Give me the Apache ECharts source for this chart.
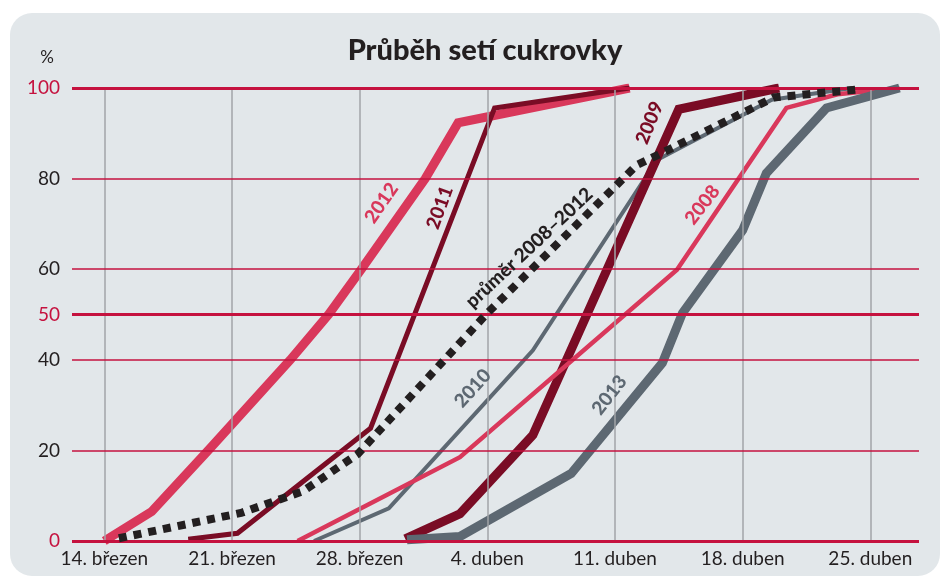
<!DOCTYPE html>
<html>
<head>
<meta charset="utf-8">
<script src="https://cdn.jsdelivr.net/npm/echarts@6/dist/echarts.min.js"></script>
<style>
html, body { margin: 0; padding: 0; background: #fff; }
#chart { width: 942px; height: 576px; }
</style>
</head>
<body>
<div id="chart"></div>
<script>
// x = days since 14. březen
var dayTicks = [0, 7, 14, 21, 28, 35, 42];
var dayLabels = ['14. březen', '21. březen', '28. březen', '4. duben', '11. duben', '18. duben', '25. duben'];
var yTicks = [0, 20, 40, 50, 60, 80, 100];
var yStrong = [0, 50, 100];

var s2008 = [[10.6, 0], [19.5, 18.5], [31.4, 59.9], [37.4, 95.6], [40.2, 98.6], [43.6, 100]];
var s2009 = [[16.5, 0.5], [19.5, 6], [23.5, 23.4], [31.5, 95.3], [37, 100]];
var s2010 = [[11.5, 0], [15.6, 7.2], [23.5, 42.1], [30.3, 84.1], [36.6, 97.4], [41, 100]];
var s2011 = [[4.6, 0.4], [7.3, 1.7], [14.6, 24.9], [21.4, 95.6], [28.8, 100]];
var s2012 = [[0, 0], [2.6, 6.5], [5.7, 20], [10.2, 40], [12.3, 50], [14.1, 60], [17.6, 80], [19.4, 92.3], [28.8, 100]];
var s2013 = [[16.6, 0.3], [19.5, 1], [25.6, 14.9], [30.6, 39.3], [31.7, 50.3], [35.0, 68.6], [36.3, 81.2], [39.6, 95.6], [43.6, 100]];
var sAvg = [[0.8, 0.6], [7.5, 6.2], [10.9, 11.0], [13.9, 19.2], [21.0, 50.3], [29.2, 83.0], [30.4, 85.3], [36.7, 97.9], [41.4, 99.7]];

// popisky u křivek: text, den, hodnota, úhel, barva
var notes = [
    ['2012', 15.2, 74.6, 55, '#d9385b'],
    ['2011', 18.4, 73.6, 70, '#7a0c25'],
    ['průměr 2008–2012', 23.3, 64.7, 43, '#231f20'],
    ['2009', 29.9, 92.3, 68, '#7a0c25'],
    ['2008', 32.8, 74.2, 52, '#d9385b'],
    ['2010', 20.2, 33.7, 48, '#5d6872'],
    ['2013', 27.7, 32.2, 52, '#5d6872']
];

var PINK = '#d9385b', MAROON = '#7a0c25', GRAY = '#5d6872', RED = '#c5123f';

var chart = echarts.init(document.getElementById('chart'));

function lineSeries(name, data, color, width, z) {
    return {
        name: name,
        type: 'line',
        data: data,
        symbol: 'none',
        z: z,
        lineStyle: { color: color, width: width, join: 'miter', cap: 'butt' }
    };
}

var gridLines = [];
dayTicks.forEach(function (d) {
    gridLines.push({ xAxis: d, lineStyle: { color: '#a2a5a8', width: 1.5, type: 'solid' } });
});
yTicks.forEach(function (v) {
    var strong = yStrong.indexOf(v) >= 0;
    gridLines.push({ yAxis: v, lineStyle: { color: RED, width: strong ? 3 : 1.5, type: 'solid' } });
});

chart.setOption({
    backgroundColor: '#fff',
    animation: false,
    graphic: [
        { type: 'rect', z: -10, shape: { x: 10, y: 13, width: 930, height: 563, r: 22 }, style: { fill: '#e2e7ea' } },
        { type: 'text', x: 485, y: 51, style: { text: 'Průběh setí cukrovky', align: 'center', verticalAlign: 'middle',
            font: '900 29px Lato', fill: '#231f20' } },
        { type: 'text', x: 47, y: 58, style: { text: '%', align: 'center', verticalAlign: 'middle',
            font: '17px Lato', fill: '#231f20' } }
    ],
    grid: { left: 72, right: 23, top: 88, bottom: 35 },
    xAxis: {
        type: 'value',
        min: -1.77,
        max: 44.67,
        axisLine: { show: false },
        axisTick: { show: false },
        splitLine: { show: false },
        axisLabel: {
            customValues: dayTicks,
            margin: 8,
            fontFamily: 'Lato',
            fontSize: 19,
            color: '#231f20',
            formatter: function (v) { return dayLabels[dayTicks.indexOf(v)]; }
        }
    },
    yAxis: {
        type: 'value',
        min: 0,
        max: 100,
        axisLine: { show: false },
        axisTick: { show: false },
        splitLine: { show: false },
        axisLabel: {
            customValues: yTicks,
            margin: 12,
            fontFamily: 'Lato',
            fontSize: 19,
            color: function (v) { return yStrong.indexOf(Number(v)) >= 0 ? RED : '#231f20'; }
        }
    },
    series: [
        lineSeries('2010', s2010, GRAY, 4, 2),
        lineSeries('2009', s2009, MAROON, 9, 2),
        lineSeries('2008', s2008, PINK, 4.5, 2),
        lineSeries('2013', s2013, GRAY, 9, 2),
        lineSeries('2012', s2012, PINK, 9, 2),
        lineSeries('2011', s2011, MAROON, 5, 2),
        {
            name: 'mřížka',
            type: 'line',
            data: [],
            z: 4,
            markLine: { silent: true, symbol: 'none', label: { show: false }, data: gridLines }
        },
        {
            name: 'průměr 2008–2012',
            type: 'line',
            data: sAvg,
            symbol: 'none',
            z: 6,
            lineStyle: { color: '#231f20', width: 8, type: [8, 7], cap: 'butt', join: 'miter' }
        }
    ]
});

var noteGraphics = notes.map(function (n) {
    var p = chart.convertToPixel({ gridIndex: 0 }, [n[1], n[2]]);
    return {
        type: 'text', x: p[0], y: p[1], rotation: n[3] * Math.PI / 180, z: 10,
        style: { text: n[0], align: 'center', verticalAlign: 'middle', font: '900 19px Lato', fill: n[4] }
    };
});
chart.setOption({ graphic: chart.getOption().graphic[0].elements.concat(noteGraphics) });
</script>
</body>
</html>
